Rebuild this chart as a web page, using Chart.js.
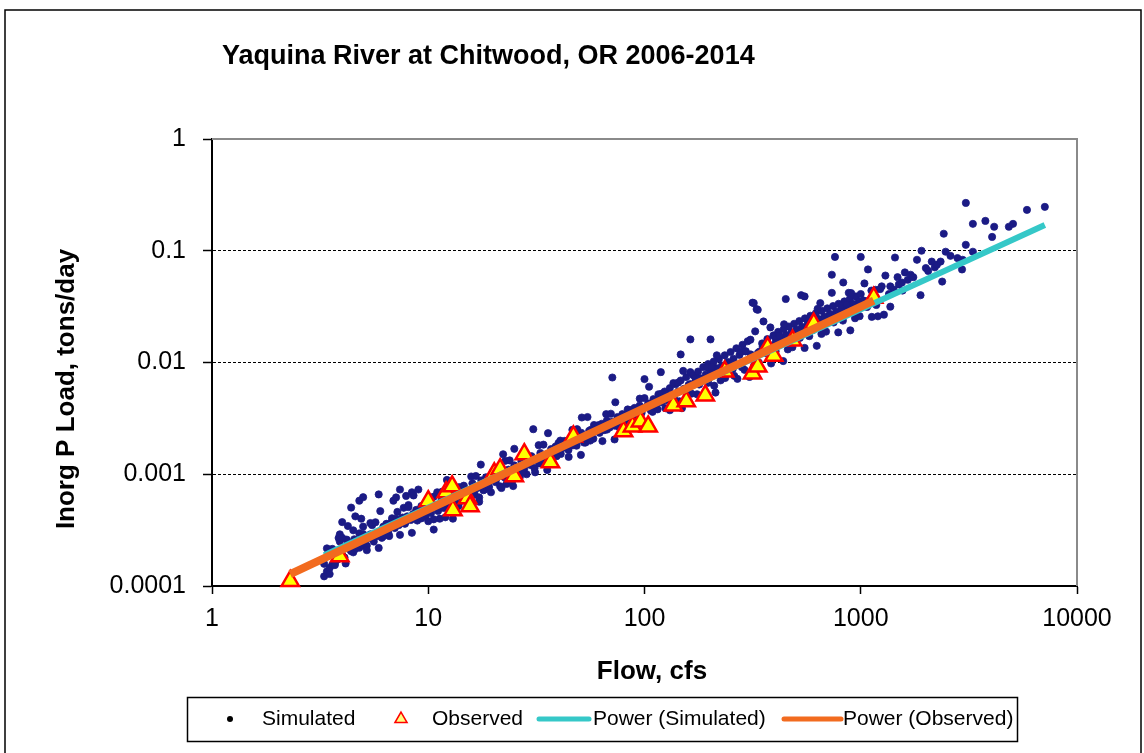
<!DOCTYPE html>
<html>
<head>
<meta charset="utf-8">
<script src="https://cdn.jsdelivr.net/npm/chart.js@4.4.0/dist/chart.umd.min.js"></script>
<style>
	html, body { margin: 0; padding: 0; background: #fff; }
	canvas { display: block; }
</style>
</head>
<body>
<canvas id="loadChart" width="1144" height="753"></canvas>
<script>
const chartTitle = "Yaquina River at Chitwood, OR 2006-2014";
const xTitle = "Flow, cfs";
const yTitle = "Inorg P Load, tons/day";

const flowTicks = [1, 10, 100, 1000, 10000];
const loadTicks = [0.0001, 0.001, 0.01, 0.1, 1];

// [flow cfs, load tons/day]
const simulated = [
	[3.3, 0.000122], [3.4, 0.000135], [3.5, 0.000128], [3.5, 0.000145], [3.6, 0.000155], [3.7, 0.00016],
	[3.8, 0.000172], [3.9, 0.00025], [3.9, 0.00029], [4.0, 0.000373], [4.0, 0.00019], [4.1, 0.00018],
	[4.2, 0.00026], [4.3, 0.000215], [4.4, 0.000503], [4.5, 0.000315], [4.5, 0.0002], [4.6, 0.00042],
	[4.7, 0.00024], [4.8, 0.00058], [4.8, 0.00022], [4.9, 0.0004], [4.9, 0.00026], [5.0, 0.00023],
	[5.0, 0.00034], [5.0, 0.000623],
	[5.2, 0.00023], [5.3, 0.00027], [5.4, 0.00029], [5.5, 0.00035], [5.6, 0.00025], [5.8, 0.00028],
	[5.9, 0.00066], [6.0, 0.00031], [6.1, 0.00027], [6.2, 0.00034], [6.3, 0.00029], [6.4, 0.00036],
	[6.5, 0.00031], [6.6, 0.00028], [6.8, 0.00038], [6.9, 0.00058], [7.0, 0.00033], [7.1, 0.00062],
	[7.2, 0.00046], [7.3, 0.00035], [7.4, 0.00073], [7.5, 0.00038], [7.6, 0.00041], [7.8, 0.00036],
	[7.9, 0.00064], [8.0, 0.00042], [8.1, 0.00053], [8.3, 0.00039], [8.4, 0.00069], [8.5, 0.00044],
	[8.7, 0.00041], [8.8, 0.00048], [9.0, 0.00073], [9.1, 0.00043], [9.3, 0.00052], [9.5, 0.00046],
	[9.7, 0.00042], [9.8, 0.00055], [10.0, 0.00049], [10.0, 0.00038],
	[10.3, 0.00045], [10.6, 0.00063], [10.6, 0.00032], [10.9, 0.00052], [11.1, 0.00047], [11.3, 0.0004],
	[11.5, 0.00058], [11.8, 0.0005], [12.0, 0.00066], [12.2, 0.00054], [12.5, 0.00048], [12.8, 0.00061],
	[13.0, 0.0004], [13.2, 0.00057], [13.5, 0.00072], [13.8, 0.00052], [14.0, 0.00064], [14.3, 0.00058],
	[14.6, 0.00079], [15.0, 0.00062], [15.3, 0.00071], [15.7, 0.00058], [16.0, 0.00083], [16.4, 0.00066],
	[16.8, 0.00075], [17.2, 0.00062], [17.6, 0.00088], [18.0, 0.00072], [18.5, 0.00094], [19.0, 0.00078],
	[19.5, 0.00069], [20.0, 0.00098],
	[20.5, 0.00085], [21, 0.00109], [21.5, 0.00078], [22.2, 0.00151], [22.5, 0.00094], [23, 0.00082],
	[23.5, 0.0011], [24, 0.00097], [24.5, 0.00088], [25, 0.0012], [25.8, 0.00103], [26.5, 0.00094],
	[27, 0.00132], [27.8, 0.00112], [28.5, 0.001], [29, 0.00142], [29.8, 0.00121], [30.6, 0.00253],
	[31, 0.00113], [31.8, 0.00135], [32.5, 0.00125], [33, 0.00155], [34, 0.00129], [35, 0.00148],
	[36, 0.00137], [37, 0.00168], [38, 0.00145], [39, 0.00158], [40, 0.0019], [41, 0.00152],
	[42, 0.00172], [43.5, 0.00195], [44.5, 0.00165], [46, 0.00183], [47, 0.00212], [48.5, 0.0018],
	[50, 0.00205],
	[51, 0.00235], [52.5, 0.00192], [54.5, 0.00325], [55, 0.00218], [56.5, 0.0025], [58, 0.00208],
	[60, 0.00262], [62, 0.00235], [63.5, 0.00283], [65, 0.00248], [67, 0.00302], [69, 0.00262],
	[71, 0.00734], [71, 0.00295], [73, 0.00272], [75, 0.00325], [77, 0.00286], [79, 0.00345],
	[81, 0.00302], [83, 0.00318], [85, 0.0037], [88, 0.00325], [90, 0.00392], [92, 0.00342],
	[95, 0.00412], [97, 0.00355], [100, 0.0071], [100, 0.00395],
	[104, 0.0043], [107, 0.00372], [110, 0.0047], [113, 0.00405], [116, 0.0052], [119, 0.0082],
	[120, 0.0044], [124, 0.0055], [125, 0.0039], [127, 0.0048], [131, 0.0059], [135, 0.0051],
	[139, 0.0064], [143, 0.0055], [145, 0.0045], [147, 0.0118], [147, 0.0069], [152, 0.0058],
	[156, 0.0074], [160, 0.0063], [163, 0.0161], [163, 0.0082], [168, 0.0077], [172, 0.0067],
	[175, 0.0052], [177, 0.0083], [182, 0.0072], [187, 0.0091], [192, 0.0078], [197, 0.0097],
	[202, 0.0161], [203, 0.0083], [209, 0.0102], [210, 0.0062], [215, 0.0089], [221, 0.0108],
	[228, 0.0094], [235, 0.0116], [242, 0.0101], [250, 0.0124], [258, 0.0108], [260, 0.0076],
	[266, 0.0134], [275, 0.0117], [284, 0.0144], [290, 0.0086], [293, 0.0126], [300, 0.0155],
	[310, 0.0118], [316, 0.0343], [320, 0.034], [325, 0.019], [330, 0.030], [334, 0.0296],
	[340, 0.0125], [350, 0.0148], [355, 0.0233], [362, 0.0131], [370, 0.0162], [382, 0.0206],
	[385, 0.0142], [395, 0.0175], [400, 0.0128], [405, 0.0155], [415, 0.0188], [428, 0.0165],
	[440, 0.0198], [450, 0.037], [452, 0.0176], [465, 0.021], [478, 0.0186], [492, 0.0222],
	[505, 0.0197], [520, 0.0235], [530, 0.040], [535, 0.0208], [550, 0.039], [552, 0.0248],
	[568, 0.022], [585, 0.0262], [600, 0.0232], [600, 0.0195], [620, 0.0276], [640, 0.0245],
	[650, 0.034], [660, 0.029], [680, 0.0258], [700, 0.0305], [720, 0.0272], [735, 0.061],
	[735, 0.042], [745, 0.032], [760, 0.088], [770, 0.0286], [790, 0.0335], [800, 0.0262],
	[815, 0.0302], [830, 0.052], [840, 0.0352], [865, 0.0318], [880, 0.042], [890, 0.037],
	[920, 0.0335], [950, 0.039], [980, 0.0352], [1000, 0.088], [1000, 0.041], [1040, 0.051],
	[1080, 0.068],
	[1120, 0.044], [1200, 0.0259], [1250, 0.048], [1300, 0.06], [1350, 0.041], [1370, 0.048],
	[1370, 0.0316], [1420, 0.045], [1440, 0.087], [1480, 0.058], [1500, 0.05], [1550, 0.052],
	[1560, 0.044], [1600, 0.064], [1650, 0.055], [1700, 0.061], [1750, 0.058], [1820, 0.083],
	[1890, 0.04], [1910, 0.1], [2000, 0.07], [2050, 0.066], [2130, 0.08], [2200, 0.071],
	[2250, 0.075], [2340, 0.08], [2380, 0.053], [2420, 0.142], [2470, 0.098], [2600, 0.09],
	[2800, 0.086], [2940, 0.068], [2960, 0.083], [3060, 0.113], [3062, 0.268], [3300, 0.174],
	[3300, 0.098], [3770, 0.185], [4050, 0.133], [4140, 0.164], [4840, 0.164], [5060, 0.174],
	[5870, 0.232], [7100, 0.247],
	[3.3, 0.000158], [3.4, 0.000217], [3.55, 0.00019], [3.6, 0.000215], [3.7, 0.000154], [3.85, 0.000269],
	[3.85, 0.000194], [4.0, 0.00027], [4.15, 0.000159], [4.25, 0.000344], [4.4, 0.000205], [4.55, 0.000262],
	[4.6, 0.000215], [4.8, 0.000296], [4.95, 0.000259], [5.0, 0.000292], [5.2, 0.000209], [5.4, 0.000366],
	[5.5, 0.000268], [5.7, 0.000372], [5.9, 0.000219], [6.0, 0.000468], [6.2, 0.000279], [6.45, 0.000357],
	[6.55, 0.000293], [6.8, 0.000404], [7.05, 0.000354], [7.1, 0.000399], [7.4, 0.000287], [7.7, 0.000501],
	[7.8, 0.000366], [8.1, 0.000508], [8.4, 0.000299], [8.55, 0.000646], [8.9, 0.000385], [9.25, 0.000492],
	[9.3, 0.000403], [9.7, 0.000556], [10.1, 0.000486], [10.2, 0.00055], [10.6, 0.000395], [11.0, 0.00069],
	[11.1, 0.000504], [11.6, 0.000699], [12.0, 0.000412], [12.2, 0.000889], [12.7, 0.00053], [13.2, 0.000677],
	[13.3, 0.000555], [13.9, 0.000766], [14.4, 0.00067], [14.6, 0.000761], [15.2, 0.000547], [15.8, 0.000955],
	[16.0, 0.000696], [16.6, 0.000965], [17.2, 0.000568], [17.5, 0.00122], [18.2, 0.00073], [18.9, 0.000933],
	[19.1, 0.000765], [19.9, 0.00105], [20.7, 0.000923], [20.9, 0.00105], [21.8, 0.000753], [22.7, 0.00132],
	[22.9, 0.000958], [23.8, 0.00133], [24.7, 0.000783], [25.0, 0.00169], [26.0, 0.00101], [27.0, 0.00129],
	[27.4, 0.00105], [28.5, 0.00145], [29.6, 0.00127], [30.0, 0.00145], [31.2, 0.00104], [32.4, 0.00182],
	[32.7, 0.00133], [34.1, 0.00184], [35.5, 0.00109], [35.8, 0.00233], [37.3, 0.00139], [38.8, 0.00177],
	[39.2, 0.00145], [40.8, 0.002], [42.4, 0.00175], [42.8, 0.00199], [44.6, 0.00143], [46.4, 0.0025],
	[46.8, 0.00182], [48.8, 0.00253], [50.8, 0.00149], [51.3, 0.00322], [53.4, 0.00192], [55.5, 0.00245],
	[56.1, 0.002], [58.4, 0.00276], [60.7, 0.00242], [61.3, 0.00275], [63.9, 0.00198], [66.5, 0.00345],
	[67.1, 0.00251], [69.9, 0.00348], [72.7, 0.00205], [73.3, 0.00441], [76.4, 0.00263], [79.5, 0.00336],
	[80.3, 0.00276], [83.6, 0.0038], [86.9, 0.00333], [87.7, 0.00378], [91.4, 0.00272], [95.1, 0.00475],
	[96, 0.00346], [100, 0.0048], [104, 0.00283], [105, 0.00607], [109, 0.00362], [113, 0.00462],
	[115, 0.00381], [120, 0.00526], [125, 0.0046], [126, 0.00521], [131, 0.00374], [136, 0.00654],
	[137, 0.00477], [143, 0.00662], [149, 0.0039], [151, 0.00841], [157, 0.00501], [163, 0.00641],
	[165, 0.00526], [172, 0.00726], [179, 0.00635], [180, 0.0072], [188, 0.00517], [196, 0.00904],
	[197, 0.00658], [205, 0.00913], [213, 0.00538], [216, 0.0116], [225, 0.00692], [234, 0.00884],
	[236, 0.00726], [246, 0.01], [256, 0.00876], [258, 0.00994], [269, 0.00714], [280, 0.0125],
	[282, 0.00909], [294, 0.0126], [306, 0.00743], [309, 0.016], [322, 0.00954], [335, 0.0122],
	[338, 0.01], [352, 0.0138], [366, 0.0121], [370, 0.0136], [385, 0.0098], [400, 0.0171],
	[404, 0.0126], [421, 0.0174], [438, 0.0103], [442, 0.022], [460, 0.0131], [478, 0.0168],
	[483, 0.0137], [503, 0.019], [523, 0.0166], [528, 0.0188], [550, 0.0135], [572, 0.0236],
	[578, 0.0172], [602, 0.0239], [626, 0.0141], [632, 0.0302], [658, 0.018], [684, 0.023],
	[691, 0.0189], [720, 0.026], [749, 0.0228], [756, 0.0259], [787, 0.0186], [818, 0.0324],
	[827, 0.0237], [861, 0.0329], [895, 0.0194], [903, 0.0418], [941, 0.0249], [979, 0.0319],
	[988, 0.026], [1029, 0.0359], [1070, 0.0314], [1080, 0.0356], [1125, 0.0256], [1170, 0.0447],
	[1180, 0.0327], [1230, 0.0454], [1280, 0.0268],
];

const observed = [
	[2.3, 0.000111], [3.9, 0.000185], [10.0, 0.000574], [12.1, 0.00069], [12.9, 0.00078], [13.0, 0.000477],
	[15.2, 0.00061], [15.6, 0.000518], [20.2, 0.00102], [21.5, 0.00111], [25.0, 0.00096], [27.8, 0.00151],
	[36.7, 0.00128], [46.9, 0.00218], [80.0, 0.00242], [88.0, 0.00268], [95.8, 0.00297], [104, 0.00268],
	[136, 0.00413], [156, 0.00449], [191, 0.00507], [235, 0.00831], [316, 0.00798], [334, 0.0092],
	[371, 0.0136], [396, 0.0115], [484, 0.0157], [606, 0.0223], [1148, 0.038],
];

// power trendline end points
const simTrendFlow = [3.3, 7100];
const simTrendLoad = [0.000189, 0.17];
const obsTrendFlow = [2.3, 1148];
const obsTrendLoad = [0.000128, 0.0358];

const navy = "#1b1b85";
const teal = "#35c8c8";
const orange = "#f26b1f";
const font = "'Liberation Sans', Arial, sans-serif";

const toPoints = (pairs) => pairs.map(([x, y]) => ({ x, y }));
const trendPoints = (flows, loads) => flows.map((x, i) => ({ x, y: loads[i] }));

// title, axis titles, frame and legend
const decorPlugin = {
	id: "decor",
	beforeDatasetsDraw(chart) {
		const { ctx } = chart;
		const { left, right, top, bottom } = chart.chartArea;
		ctx.save();
		ctx.strokeStyle = "#8a8a8a";
		ctx.lineWidth = 2;
		ctx.beginPath();
		ctx.moveTo(left, top);
		ctx.lineTo(right, top);
		ctx.lineTo(right, bottom);
		ctx.stroke();
		ctx.restore();
	},
	afterDraw(chart) {
		const { ctx } = chart;
		ctx.save();

		ctx.strokeStyle = "#000";
		ctx.lineWidth = 1.5;
		ctx.strokeRect(5, 10, 1136, 760);

		ctx.fillStyle = "#000";
		ctx.font = "bold 27px " + font;
		ctx.textAlign = "left";
		ctx.textBaseline = "alphabetic";
		ctx.fillText(chartTitle, 222, 64);

		ctx.font = "bold 26px " + font;
		ctx.textAlign = "center";
		ctx.textBaseline = "middle";
		ctx.fillText(xTitle, 652, 672);

		ctx.save();
		ctx.translate(67, 389);
		ctx.rotate(-Math.PI / 2);
		ctx.fillText(yTitle, 0, 0);
		ctx.restore();

		// legend
		const ly = 719;
		ctx.lineWidth = 1.5;
		ctx.strokeStyle = "#000";
		ctx.strokeRect(187.5, 697.5, 830, 44);

		ctx.font = "21px " + font;
		ctx.textAlign = "left";
		ctx.fillStyle = "#000";
		ctx.beginPath();
		ctx.arc(230, ly, 3, 0, Math.PI * 2);
		ctx.fill();

		ctx.fillStyle = "#ffff80";
		ctx.strokeStyle = "#ff0000";
		Chart.helpers.drawPoint(ctx, { pointStyle: "triangle", radius: 7, borderWidth: 2.5 }, 401, ly);

		ctx.lineCap = "round";
		ctx.lineWidth = 5;
		ctx.strokeStyle = teal;
		ctx.beginPath();
		ctx.moveTo(539, ly);
		ctx.lineTo(589, ly);
		ctx.stroke();
		ctx.strokeStyle = orange;
		ctx.beginPath();
		ctx.moveTo(784, ly);
		ctx.lineTo(841, ly);
		ctx.stroke();

		ctx.fillStyle = "#000";
		ctx.fillText("Simulated", 262, ly);
		ctx.fillText("Observed", 432, ly);
		ctx.fillText("Power (Simulated)", 593, ly);
		ctx.fillText("Power (Observed)", 843, ly);

		ctx.restore();
	},
};

const renderChart = () => {
	const canvas = document.querySelector("#loadChart");

	new Chart(canvas, {
		type: "scatter",
		data: {
			datasets: [
				{
					label: "Simulated",
					data: toPoints(simulated),
					pointRadius: 3.6,
					pointBackgroundColor: navy,
					pointBorderColor: navy,
					pointBorderWidth: 0.8,
					order: 4,
				},
				{
					label: "Observed",
					data: toPoints(observed),
					pointStyle: "triangle",
					pointRadius: 10,
					pointBackgroundColor: "#ffff00",
					pointBorderColor: "#ff0000",
					pointBorderWidth: 2.5,
					clip: false,
					order: 3,
				},
				{
					label: "Power (Simulated)",
					data: trendPoints(simTrendFlow, simTrendLoad),
					showLine: true,
					borderColor: teal,
					borderWidth: 6,
					pointRadius: 0,
					order: 2,
				},
				{
					label: "Power (Observed)",
					data: trendPoints(obsTrendFlow, obsTrendLoad),
					showLine: true,
					borderColor: orange,
					borderWidth: 8,
					pointRadius: 0,
					order: 1,
				},
			],
		},
		options: {
			responsive: false,
			animation: false,
			devicePixelRatio: 1,
			layout: { padding: { top: 139, right: 67, bottom: 0, left: 0 } },
			plugins: {
				legend: { display: false },
				tooltip: { enabled: false },
			},
			scales: {
				x: {
					type: "logarithmic",
					min: 1,
					max: 10000,
					afterBuildTicks: (scale) => {
						scale.ticks = flowTicks.map((v) => ({ value: v }));
					},
					afterFit: (scale) => {
						scale.height = 167;
					},
					ticks: {
						callback: (v) => String(v),
						font: { family: font, size: 25 },
						color: "#000",
						padding: 10,
						maxRotation: 0,
						autoSkip: false,
					},
					grid: { drawOnChartArea: false, tickLength: 8, tickColor: "#000", tickWidth: 1.5 },
					border: { color: "#000", width: 2 },
				},
				y: {
					type: "logarithmic",
					min: 0.0001,
					max: 1,
					afterBuildTicks: (scale) => {
						scale.ticks = loadTicks.map((v) => ({ value: v }));
					},
					afterFit: (scale) => {
						scale.width = 212;
					},
					ticks: {
						callback: (v) => String(v),
						font: { family: font, size: 25 },
						color: "#000",
						padding: 17,
						autoSkip: false,
					},
					grid: {
						color: (c) => (c.tick && c.tick.value > 0.0001 && c.tick.value < 1 ? "#000" : "rgba(0,0,0,0)"),
						lineWidth: 1,
						tickLength: 9,
						tickColor: "#000",
						tickWidth: 1.5,
					},
					border: { color: "#000", width: 2, dash: [3, 2] },
				},
			},
		},
		plugins: [decorPlugin],
	});
};

renderChart();
</script>
</body>
</html>
